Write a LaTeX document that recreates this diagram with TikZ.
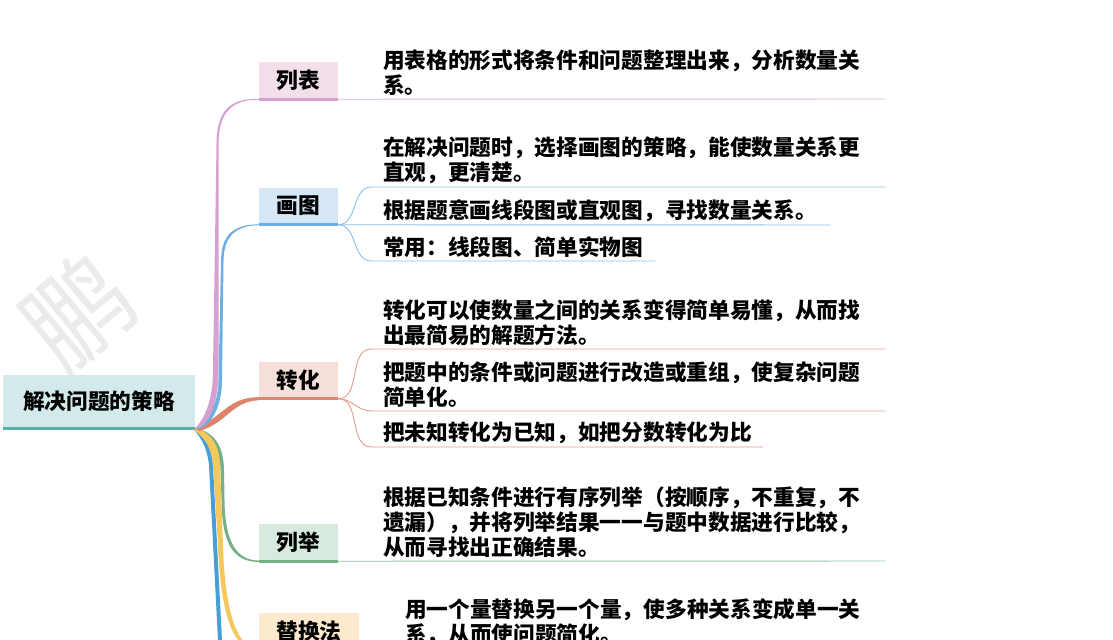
\documentclass[tikz,border=0pt]{standalone}
\usepackage{fontspec}
\newfontfamily\cjk{Noto Sans CJK SC}

\definecolor{rootfill}{RGB}{210,234,234}
\definecolor{rootline}{RGB}{90,176,176}
\definecolor{pinkfill}{RGB}{243,222,236}
\definecolor{pinkline}{RGB}{214,160,208}
\definecolor{bluefill}{RGB}{213,231,247}
\definecolor{blueline}{RGB}{108,176,226}
\definecolor{redfill}{RGB}{246,223,217}
\definecolor{redline}{RGB}{222,132,108}
\definecolor{greenfill}{RGB}{216,234,222}
\definecolor{greenline}{RGB}{118,176,136}
\definecolor{yellowfill}{RGB}{252,233,206}
\definecolor{yellowline}{RGB}{244,200,92}
\definecolor{deepblue}{RGB}{72,158,214}

\begin{document}
\begin{tikzpicture}[x=0.03cm, y=-0.03cm,
    txt/.style={font=\cjk\bfseries\fontsize{18.5}{21.3}\selectfont},
    topic/.style={txt, minimum width=2.37cm, minimum height=1.11cm, inner sep=0},
    leaf/.style={txt, anchor=south west, align=left, inner xsep=0, inner ysep=2.5pt},
    bar/.style={line width=2.6pt},
    twig/.style={line width=0.8pt}]

  \useasboundingbox (0,0) rectangle (1113,640);
  \clip (0,0) rectangle (1113,640);

  % Watermark
  \node[font=\cjk\fontsize{90}{90}\selectfont, text=black!8, rotate=40] (mark) at (78,312) {鹏};

  % Root
  \node[txt, fill=rootfill, minimum width=5.76cm, minimum height=1.59cm, inner sep=0] (root) at (99,401.5) {解决问题的策略};

  % Topics
  \node[topic, fill=pinkfill] (lb) at (298.5,80.5) {列表};
  \node[topic, fill=bluefill] (ht) at (298.5,206) {画图};
  \node[topic, fill=redfill] (zh) at (298.5,380) {转化};
  \node[topic, fill=greenfill] (lj) at (298.5,542.5) {列举};
  \node[topic, fill=yellowfill, minimum width=3cm] (th) at (309,631) {替换法};
  \coordinate (down) at (221,660);

  % Branches
  \draw[line width=3.4pt, deepblue] (root.south east) .. controls (204,438) and (209,448) .. (211,465) -- (down);
  \fill[greenline] (root.south east) .. controls (214,432) and (223.5,445) .. (224,470) -- (224.5,500)
    .. controls (225,543) and (237,560.3) .. ([yshift=0.6pt]lj.south west) -- ([yshift=-0.6pt]lj.south west)
    .. controls (235,561.7) and (222,547) .. (221.5,500) -- (220.5,470) .. controls (220,448) and (210,437) .. (197,431) -- cycle;
  \fill[yellowline] (root.south east) .. controls (212,433) and (219,445) .. (220,465) -- (223,545)
    .. controls (225,615) and (238,649) .. ([yshift=0.8pt]th.south west) -- ([yshift=-0.8pt]th.south west)
    .. controls (235,652) and (221,620) .. (218,545) -- (213,465) .. controls (211,447) and (205,438) .. (195,431) -- cycle;
  \fill[redline] (root.south east) .. controls (222,418) and (228,397) .. ([yshift=1.3pt]zh.south west)
    -- ([yshift=-1.3pt]zh.south west) .. controls (232,401) and (226,424) .. (199,431) -- cycle;
  \fill[blueline] (root.south east) .. controls (209,419) and (218.5,403) .. (218.5,380) -- (221,262)
    .. controls (221,235) and (233,224.5) .. ([yshift=0.4pt]ht.south west) -- ([yshift=-0.4pt]ht.south west)
    .. controls (235,225.5) and (223.5,237) .. (223.5,262) -- (222,380) .. controls (222,407) and (211,426) .. (198,429) -- cycle;
  \fill[pinkline] (root.south east) .. controls (205,418) and (213,400) .. (213,370) -- (216.5,145)
    .. controls (216.5,111) and (229,98.5) .. ([yshift=0.4pt]lb.south west) -- ([yshift=-0.4pt]lb.south west)
    .. controls (231,99.5) and (218.5,113) .. (218.5,145) -- (218.5,370) .. controls (218.5,402) and (210,424) .. (197,428.5) -- cycle;

  % Leaves
  \node[leaf, text width=15.06cm] (L1) at (383,99) {用表格的形式将条件和问题整理出来，分析数量关\\系。};
  \node[leaf, text width=15.06cm] (P1) at (383,187) {在解决问题时，选择画图的策略，能使数量关系更\\直观，更清楚。};
  \node[leaf, text width=13.41cm] (P2) at (383,225) {根据题意画线段图或直观图，寻找数量关系。};
  \node[leaf, text width=8.16cm] (P3) at (383,261) {常用：线段图、简单实物图};
  \node[leaf, text width=15.06cm] (T1) at (383,349) {转化可以使数量之间的关系变得简单易懂，从而找\\出最简易的解题方法。};
  \node[leaf, text width=15.06cm] (T2) at (383,411) {把题中的条件或问题进行改造或重组，使复杂问题\\简单化。};
  \node[leaf, text width=11.4cm] (T3) at (383,447) {把未知转化为已知，如把分数转化为比};
  \node[leaf, text width=15.06cm] (E1) at (383,561) {根据已知条件进行有序列举（按顺序，不重复，不\\遗漏），并将列举结果一一与题中数据进行比较，\\从而寻找出正确结果。};
  \node[leaf, text width=14.4cm] (S1) at (405,649) {用一个量替换另一个量，使多种关系变成单一关\\系，从而使问题简化。};

  % Leaf lines
  \draw[twig, pinkline!80] (lb.south east) -- (L1.south east);
  \draw[twig, blueline!80] (ht.south east) to[out=0, in=180] ([xshift=-10pt]P1.south west) -- (P1.south east);
  \draw[twig, blueline!80] (ht.south east) -- (P2.south east);
  \draw[twig, blueline!80] (ht.south east) to[out=0, in=180] ([xshift=-10pt]P3.south west) -- (P3.south east);
  \draw[twig, redline!80] (zh.south east) to[out=0, in=180] ([xshift=-10pt]T1.south west) -- (T1.south east);
  \draw[twig, redline!80] (zh.south east) to[out=0, in=180] ([xshift=-10pt]T2.south west) -- (T2.south east);
  \draw[twig, redline!80] (zh.south east) to[out=0, in=180] ([xshift=-10pt]T3.south west) -- (T3.south east);
  \draw[twig, greenline!80] (lj.south east) -- (E1.south east);
  \draw[twig, yellowline!80] (th.south east) to[out=0, in=180] ([xshift=-10pt]S1.south west) -- (S1.south east);

  % Underlines
  \draw[bar, rootline] (root.south west) -- (root.south east);
  \draw[bar, pinkline] (lb.south west) -- (lb.south east);
  \draw[bar, blueline] (ht.south west) -- (ht.south east);
  \draw[bar, redline] (zh.south west) -- (zh.south east);
  \draw[bar, greenline] (lj.south west) -- (lj.south east);
  \draw[bar, yellowline] (th.south west) -- (th.south east);

\end{tikzpicture}
\end{document}
